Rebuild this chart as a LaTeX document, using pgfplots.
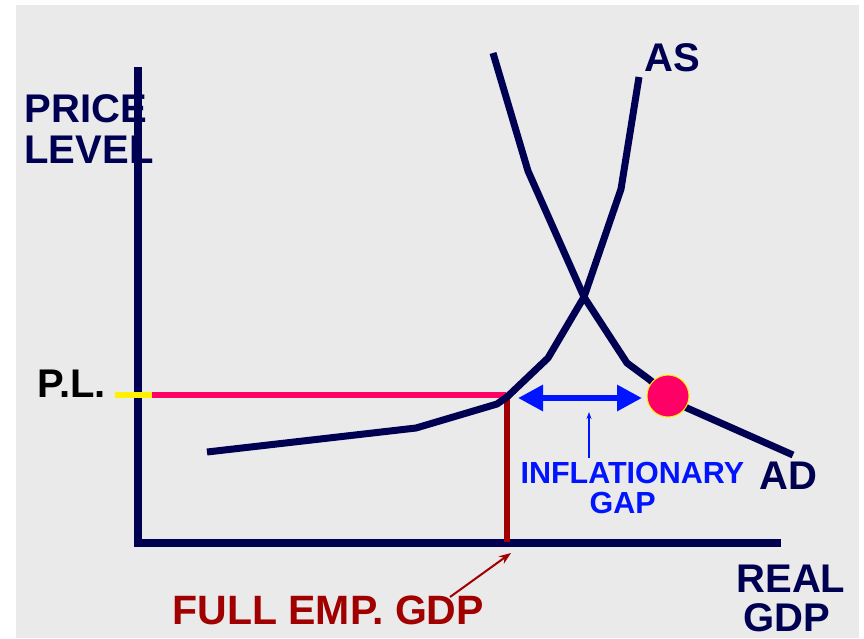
\documentclass[border=0pt]{standalone}
\usepackage{pgfplots}
\pgfplotsset{compat=1.18}
\usepackage{fontspec}
\setmainfont{Liberation Sans}
\usetikzlibrary{arrows.meta}
\definecolor{navy}{RGB}{0,0,82}
\definecolor{bgray}{RGB}{234,234,234}
\definecolor{pinkc}{RGB}{255,0,102}
\definecolor{dred}{RGB}{160,0,0}
\definecolor{bblue}{RGB}{0,20,255}
\begin{document}
\begin{tikzpicture}
\begin{axis}[
  scale only axis, width=864pt, height=638pt,
  xmin=0, xmax=864, ymin=0, ymax=638, y dir=reverse,
  hide axis, clip=false,
  every node/.style={inner sep=0pt, outer sep=0pt},
]
% backgrounds
\addplot[fill=white, draw=none] coordinates {(0,0) (864,0) (864,638) (0,638)} -- cycle;
\addplot[fill=bgray, draw=none] coordinates {(16,5) (859,5) (859,638) (16,638)} -- cycle;
% axes
\addplot[navy, line width=8pt, mark=none] coordinates {(138,67) (138,547)};
\addplot[navy, line width=8pt, mark=none] coordinates {(134,543) (781,543)};
% price level lines
\addplot[pinkc, line width=5.5pt, mark=none] coordinates {(152,395) (506,395)};
\addplot[yellow, line width=5.5pt, mark=none] coordinates {(115,395) (152,395)};
\addplot[dred, line width=5.5pt, mark=none] coordinates {(507,395) (507,542)};
% AS curve
\addplot[navy, line width=7pt, mark=none, line join=round] coordinates {
(207,452) (416,428) (497,404) (507,397) (548,358) (584,297) (621,189) (639,77)};
% AD curve
\addplot[navy, line width=7pt, mark=none, line join=round] coordinates {
(493,53) (528,171) (584,297) (627,363) (650,380) (668,396) (687,408) (793,455)};
% equilibrium point
\addplot[only marks, mark=*, mark size=21pt, mark options={fill=pinkc, draw=yellow, line width=1pt}] coordinates {(668,396)};
% inflationary gap arrow
\addplot[bblue, line width=6pt, mark=none, {Triangle[length=25pt,width=25pt]}-{Triangle[length=25pt,width=25pt]}] coordinates {(518,398) (642,398)};
\addplot[bblue, line width=1.5pt, mark=none, -{Stealth[length=7pt,width=5pt]}] coordinates {(589,458) (589,412)};
% full emp arrow
\addplot[dred, line width=2pt, mark=none, -{Stealth[length=12pt,width=9pt]}] coordinates {(450,597) (511,553)};
% labels
\node[anchor=base west, text=navy, font=\fontsize{40}{44}\selectfont\bfseries] at (axis cs:21,122) {PRICE};
\node[anchor=base west, text=navy, font=\fontsize{40}{44}\selectfont\bfseries] at (axis cs:21,163) {LEVEL};
\node[anchor=base west, text=black, font=\fontsize{40}{44}\selectfont\bfseries] at (axis cs:34,397) {P.L.};
\node[anchor=base west, text=dred, font=\fontsize{41}{44}\selectfont\bfseries] at (axis cs:169,624) {FULL EMP. GDP};
\node[anchor=base west, text=navy, font=\fontsize{40}{44}\selectfont\bfseries] at (axis cs:641,71) {AS};
\node[anchor=base west, text=navy, font=\fontsize{40}{44}\selectfont\bfseries] at (axis cs:756,489) {AD};
\node[anchor=base west, text=navy, font=\fontsize{40}{44}\selectfont\bfseries] at (axis cs:733,592) {REAL};
\node[anchor=base west, text=navy, font=\fontsize{40}{44}\selectfont\bfseries] at (axis cs:740,631) {GDP};
\node[anchor=base west, text=bblue, font=\fontsize{30.5}{34}\selectfont\bfseries] at (axis cs:517,483) {INFLATIONARY};
\node[anchor=base west, text=bblue, font=\fontsize{30.5}{34}\selectfont\bfseries] at (axis cs:586,513) {GAP};
\end{axis}
\end{tikzpicture}
\end{document}
